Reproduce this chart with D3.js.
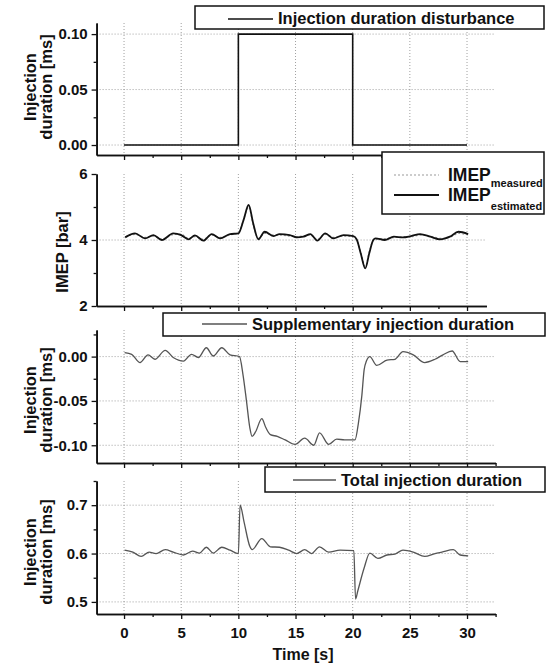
<!DOCTYPE html>
<html>
<head>
<meta charset="utf-8">
<script src="https://cdn.jsdelivr.net/npm/d3@7"></script>
<style>
    body { margin: 0; background: #fff; }
    svg text { font-family: "Liberation Sans", Arial, sans-serif; font-weight: bold; fill: #111; }
</style>
</head>
<body>
<svg id="chart" width="552" height="667"></svg>
<script>
// ---- data ----
const xTicks = [0, 5, 10, 15, 20, 25, 30];
const xMinor = [2.5, 7.5, 12.5, 17.5, 22.5, 27.5, 32.5];

// panel 1 : injection duration disturbance (step)
const timeDisturb = [0, 10, 10, 20, 20, 30];
const disturbance = [0, 0, 0.1, 0.1, 0, 0];
const disturbTicks = [0, 0.05, 0.1];

// panel 2 : IMEP
const timeImep = [0.1, 0.96, 1.84, 2.57, 3.3, 4.3, 5.0, 5.63, 6.2, 6.94, 7.67, 8.4, 9.27, 10.0, 10.45, 10.9, 11.3, 11.75, 12.3, 13.1, 13.6, 14.5, 15.1, 15.7, 16.3, 16.9, 17.6, 18.3, 19.2, 20.06, 20.35, 20.7, 21.1, 21.45, 21.8, 22.0, 22.8, 23.6, 24.4, 25.1, 25.9, 26.8, 27.65, 28.5, 29.25, 30.1];
const imepEstimated = [4.08, 4.2, 4.05, 4.15, 4.0, 4.2, 4.15, 4.02, 4.14, 3.98, 4.18, 4.05, 4.18, 4.2, 4.6, 5.06, 4.5, 4.02, 4.25, 4.12, 4.18, 4.15, 4.08, 4.1, 4.18, 3.98, 4.2, 4.05, 4.15, 4.12, 4.02, 3.6, 3.14, 3.6, 4.0, 4.05, 4.0, 4.1, 4.08, 4.12, 4.18, 4.1, 4.02, 4.1, 4.25, 4.18];
const imepMeasured = [4.1, 4.17, 4.08, 4.12, 4.03, 4.16, 4.18, 4.05, 4.1, 4.02, 4.15, 4.08, 4.15, 4.22, 4.62, 5.0, 4.45, 4.05, 4.2, 4.15, 4.15, 4.12, 4.1, 4.13, 4.15, 4.02, 4.17, 4.08, 4.12, 4.1, 4.0, 3.65, 3.2, 3.65, 3.98, 4.02, 4.04, 4.07, 4.1, 4.1, 4.15, 4.12, 4.05, 4.08, 4.2, 4.15];
const imepTicks = [2, 4, 6];

// panel 3 : supplementary injection duration
const timeSupp = [0.05, 0.67, 1.4, 2.1, 2.7, 3.6, 4.3, 5.2, 5.9, 6.5, 7.2, 7.8, 8.55, 9.27, 10.1, 10.4, 10.7, 11.0, 11.2, 11.5, 12.05, 12.4, 12.8, 13.4, 14.1, 14.96, 15.8, 16.6, 17.1, 17.9, 18.6, 19.3, 20.2, 20.5, 20.8, 21.0, 21.2, 21.5, 22.1, 23.0, 23.7, 24.4, 25.3, 26.3, 27.2, 27.9, 28.7, 29.4, 30.1];
const suppDuration = [0.0044, 0.0026, -0.0067, 0.002, -0.003, 0.007, -0.001, -0.005, 0.0026, -0.001, 0.01, 0.0007, 0.01, 0.002, 0.0, -0.02, -0.049, -0.08, -0.09, -0.085, -0.07, -0.08, -0.088, -0.09, -0.094, -0.099, -0.092, -0.1, -0.086, -0.099, -0.093, -0.094, -0.094, -0.075, -0.044, -0.015, -0.005, 0.0, -0.01, -0.004, -0.003, 0.0056, 0.002, -0.0067, -0.003, 0.002, 0.0063, -0.0056, -0.0056];
const suppTicks = [-0.1, -0.05, 0];

// panel 4 : total injection duration
const timeTotal = [0.05, 0.77, 1.5, 2.2, 2.8, 3.6, 4.3, 5.2, 6.0, 6.6, 7.2, 7.8, 8.55, 9.27, 10.0, 10.15, 10.5, 11.0, 11.2, 12.05, 12.8, 13.6, 14.4, 15.1, 15.8, 16.4, 17.1, 17.9, 18.9, 20.1, 20.25, 20.45, 21.0, 21.5, 22.2, 23.0, 23.7, 24.4, 25.3, 26.3, 27.2, 27.8, 28.8, 29.4, 30.1];
const totalDuration = [0.607, 0.603, 0.594, 0.603, 0.6, 0.608, 0.603, 0.597, 0.605, 0.601, 0.613, 0.601, 0.613, 0.607, 0.6, 0.70, 0.665, 0.615, 0.608, 0.631, 0.614, 0.613, 0.607, 0.6, 0.608, 0.6, 0.614, 0.603, 0.607, 0.606, 0.506, 0.523, 0.57, 0.601, 0.59, 0.597, 0.599, 0.607, 0.603, 0.594, 0.6, 0.603, 0.608, 0.597, 0.595];
const totalTicks = [0.5, 0.6, 0.7];

// ---- layout ----
const svg = d3.select("#chart");
const xLeft = -2.4;
const xScale = d3.scaleLinear().domain([xLeft, 32.5]).range([96.6, 495.6]);
const dash = d => d.replace("\u2212", "-");

const panels = [
    { top: 23, bottom: 155, domain: [-0.009, 0.11], ticks: disturbTicks, minor: [0.025, 0.075], fmt: v => dash(d3.format(".2f")(v)), xEnd: 32.5, labelY: 87,
      lines: [{ t: timeDisturb, v: disturbance, color: "#111", width: 1.6, dash: null, curve: d3.curveLinear }] },
    { top: 174, bottom: 306, domain: [2, 6], ticks: imepTicks, minor: [3, 5], fmt: d3.format("d"), xEnd: 31.7, labelY: 252,
      lines: [{ t: timeImep, v: imepMeasured, color: "#999", width: 1.2, dash: "2,2", curve: d3.curveMonotoneX },
              { t: timeImep, v: imepEstimated, color: "#111", width: 1.8, dash: null, curve: d3.curveMonotoneX }] },
    { top: 330, bottom: 463, domain: [-0.12, 0.03], ticks: suppTicks, minor: [-0.075, -0.025, 0.025], fmt: v => dash(d3.format(".2f")(v)), xEnd: 32.5, labelY: 400,
      lines: [{ t: timeSupp, v: suppDuration, color: "#555", width: 1.3, dash: null, curve: d3.curveMonotoneX }] },
    { top: 481, bottom: 614, domain: [0.475, 0.75], ticks: totalTicks, minor: [0.55, 0.65, 0.75], fmt: d3.format(".1f"), xEnd: 32.5, labelY: 552,
      lines: [{ t: timeTotal, v: totalDuration, color: "#555", width: 1.3, dash: null, curve: d3.curveMonotoneX }] }
];

panels.forEach((p, i) => {
    const x = d3.scaleLinear().domain([xLeft, p.xEnd]).range([xScale(xLeft), xScale(p.xEnd)]);
    const y = d3.scaleLinear().domain(p.domain).range([p.bottom, p.top]);
    const g = svg.append("g");

    // grid
    g.selectAll(".vgrid").data(xTicks).join("line")
        .attr("x1", d => x(d)).attr("x2", d => x(d))
        .attr("y1", p.top).attr("y2", p.bottom)
        .attr("stroke", "#888").attr("stroke-width", 0.8).attr("stroke-dasharray", "1,2");
    g.selectAll(".hgrid").data(p.ticks.filter(d => d > p.domain[0] && d < p.domain[1])).join("line")
        .attr("x1", x(xLeft)).attr("x2", x(p.xEnd))
        .attr("y1", d => y(d)).attr("y2", d => y(d))
        .attr("stroke", "#888").attr("stroke-width", 0.8).attr("stroke-dasharray", "1,2");

    // series
    p.lines.forEach(l => {
        const line = d3.line().x(d => x(d[0])).y(d => y(d[1])).curve(l.curve);
        g.append("path").datum(d3.zip(l.t, l.v))
            .attr("d", line).attr("fill", "none")
            .attr("stroke", l.color).attr("stroke-width", l.width)
            .attr("stroke-dasharray", l.dash);
    });

    // axes
    g.append("g").attr("transform", `translate(${x(xLeft)},0)`)
        .call(d3.axisLeft(y).tickValues(p.ticks).tickFormat(p.fmt).tickSize(5).tickSizeOuter(0).tickPadding(4));
    g.append("g").attr("transform", `translate(${x(xLeft)},0)`)
        .call(d3.axisLeft(y).tickValues(p.minor.filter(d => d <= p.domain[1])).tickFormat("").tickSize(3).tickSizeOuter(0));
    g.append("g").attr("transform", `translate(0,${p.bottom})`)
        .call(d3.axisBottom(x).tickValues(xTicks).tickSize(5).tickSizeOuter(0).tickPadding(8)
            .tickFormat(i === 3 ? d3.format("d") : ""));
    g.append("g").attr("transform", `translate(0,${p.bottom})`)
        .call(d3.axisBottom(x).tickValues(xMinor.filter(d => d <= p.xEnd)).tickFormat("").tickSize(3).tickSizeOuter(0));

    g.selectAll(".domain").attr("stroke", "#111").attr("stroke-width", 1.6);
    g.selectAll(".tick line").attr("stroke", "#111").attr("stroke-width", 1.3);
    g.selectAll(".tick text").style("font-size", "15px").attr("fill", "#111");

    // y titles
    if (i === 1) {
        g.append("text").attr("transform", `translate(68,${p.labelY}) rotate(-90)`)
            .attr("text-anchor", "middle").style("font-size", "16.5px").text("IMEP [bar]");
    } else {
        g.append("text").attr("transform", `translate(36,${p.labelY}) rotate(-90)`)
            .attr("text-anchor", "middle").style("font-size", "16.5px").text("Injection");
        g.append("text").attr("transform", `translate(52,${p.labelY}) rotate(-90)`)
            .attr("text-anchor", "middle").style("font-size", "16.5px").text("duration [ms]");
    }
});

svg.append("text").attr("x", 303).attr("y", 660).attr("text-anchor", "middle")
    .style("font-size", "16px").text("Time [s]");

// ---- legends ----
function legendBox(x0, y0, w, h) {
    svg.append("rect").attr("x", x0).attr("y", y0).attr("width", w).attr("height", h)
        .attr("fill", "#fff").attr("stroke", "#111").attr("stroke-width", 1.5);
}
function legendLine(x1, x2, yy, color, width, dsh) {
    svg.append("line").attr("x1", x1).attr("x2", x2).attr("y1", yy).attr("y2", yy)
        .attr("stroke", color).attr("stroke-width", width).attr("stroke-dasharray", dsh);
}

legendBox(195, 6, 349, 23);
legendLine(228, 273, 19, "#111", 1.6, null);
svg.append("text").attr("x", 278).attr("y", 24).style("font-size", "16.5px").text("Injection duration disturbance");

legendBox(382, 152, 162, 62);
legendLine(394, 439, 175, "#999", 1.2, "2,2");
legendLine(394, 439, 195, "#111", 1.8, null);
const imep1 = svg.append("text").attr("x", 448).attr("y", 181).style("font-size", "17.5px").text("IMEP");
imep1.append("tspan").attr("dy", 6).style("font-size", "11px").text("measured");
const imep2 = svg.append("text").attr("x", 448).attr("y", 201).style("font-size", "17.5px").text("IMEP");
imep2.append("tspan").attr("dy", 9).style("font-size", "11px").text("estimated");

legendBox(163, 313, 382, 23);
legendLine(202, 247, 324, "#555", 1.3, null);
svg.append("text").attr("x", 252).attr("y", 330).style("font-size", "16.5px").text("Supplementary injection duration");

legendBox(265, 467, 280, 25);
legendLine(293, 336, 480, "#555", 1.3, null);
svg.append("text").attr("x", 341).attr("y", 486).style("font-size", "16.5px").text("Total injection duration");
</script>
</body>
</html>
